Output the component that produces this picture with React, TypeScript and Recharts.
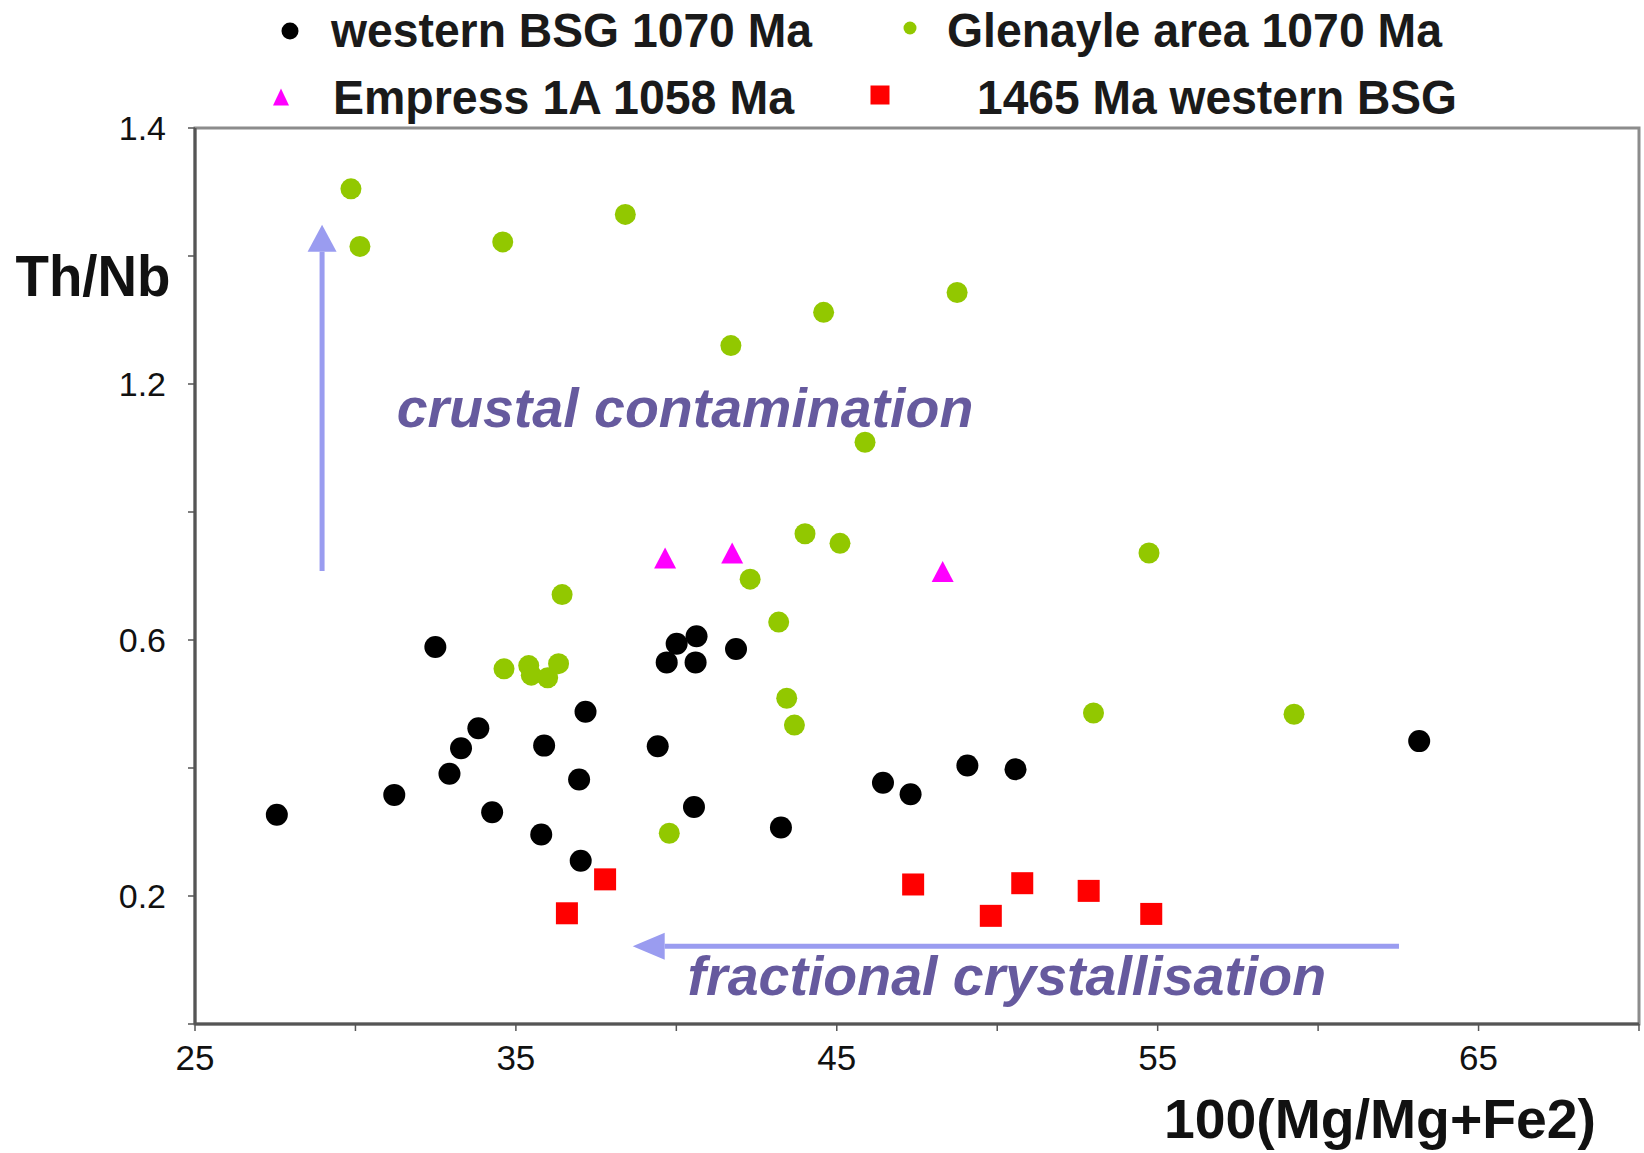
import React from 'react';
import { ScatterChart, Scatter, XAxis, YAxis, Legend, ReferenceArea, ReferenceLine, ReferenceDot } from 'recharts';

const FONT = '"Liberation Sans", Arial, sans-serif';

// series values: 100(Mg/Mg+Fe2) and Th/Nb
const westernBsgX = [27.55, 31.21, 32.49, 32.93, 33.29, 33.83, 34.26, 35.79, 35.88, 36.97, 37.02, 37.17, 39.42, 39.7, 40.01, 40.6, 40.63, 40.55, 41.86, 43.26, 46.44, 47.3, 49.07, 50.57, 63.15];
const westernBsgY = [0.327, 0.358, 0.589, 0.391, 0.431, 0.462, 0.331, 0.296, 0.435, 0.382, 0.255, 0.488, 0.434, 0.565, 0.594, 0.565, 0.606, 0.339, 0.586, 0.307, 0.377, 0.359, 0.404, 0.398, 0.442];

const glenayleX = [29.86, 30.14, 34.59, 38.41, 41.7, 44.59, 48.75, 45.88, 44.01, 45.1, 54.73, 42.3, 36.44, 43.19, 34.63, 35.4, 35.48, 35.99, 36.33, 43.44, 43.68, 53.0, 59.25, 39.78];
const glenayleY = [1.305, 1.215, 1.222, 1.265, 1.06, 1.112, 1.143, 0.909, 0.766, 0.751, 0.736, 0.695, 0.671, 0.628, 0.555, 0.56, 0.545, 0.541, 0.563, 0.509, 0.467, 0.486, 0.484, 0.298];

const empressX = [39.65, 41.74, 48.3];
const empressY = [0.728, 0.736, 0.707];

const bsg1465X = [36.59, 37.78, 47.38, 49.8, 50.78, 52.85, 54.8];
const bsg1465Y = [0.173, 0.226, 0.218, 0.169, 0.22, 0.208, 0.172];

const seriesNames = ['western BSG 1070 Ma', 'Glenayle area 1070 Ma', 'Empress 1A 1058 Ma', '1465 Ma western BSG'];

// axis ticks (the figure labels them irregularly)
const xTicks = [25, 30, 35, 40, 45, 50, 55, 60, 65, 70];
const xTickLabels = ['25', '', '35', '', '45', '', '55', '', '65', ''];
const yTicks = [0, 0.2, 0.4, 0.6, 0.8, 1.0, 1.2, 1.4];
const yTickLabels = ['', '0.2', '', '0.6', '', '1.2', '', '1.4'];

// annotation arrows: [from, tip]
const crustalArrow = [{ x: 28.96, y: 0.708 }, { x: 28.96, y: 1.249 }];
const fractionalArrow = [{ x: 62.52, y: 0.1214 }, { x: 38.64, y: 0.1214 }];
const crustalText = { x: 40.27, y: 0.933, text: 'crustal contamination' };
const fractionalText = { x: 50.3, y: 0.0458, text: 'fractional crystallisation' };

const toPoints = (xs: number[], ys: number[]) => xs.map((x, i) => ({ x, y: ys[i] }));

const westernBsg = toPoints(westernBsgX, westernBsgY);
const glenayle = toPoints(glenayleX, glenayleY);
const empress = toPoints(empressX, empressY);
const bsg1465 = toPoints(bsg1465X, bsg1465Y);

function Marker({ kind, cx, cy, small }: { kind: number; cx: number; cy: number; small?: boolean }) {
  if (kind === 0) return <circle cx={cx} cy={cy} r={small ? 8.5 : 11} fill="#000" />;
  if (kind === 1) return <circle cx={cx} cy={cy} r={small ? 6.5 : 10.5} fill="#92c800" />;
  if (kind === 2) {
    const h = small ? 8.5 : 10.5;
    const w = small ? 8 : 11;
    return <polygon points={`${cx},${cy - h} ${cx - w},${cy + h} ${cx + w},${cy + h}`} fill="#ff00ff" />;
  }
  const s = small ? 9.5 : 11;
  return <rect x={cx - s} y={cy - s} width={s * 2} height={s * 2} fill="#ff0000" />;
}

const shapeFor = (kind: number) => (p: any) => <Marker kind={kind} cx={p.cx} cy={p.cy} />;

const arrowShape = (head: number, half: number) => (p: any) => {
  const { x1, y1, x2, y2 } = p;
  const dx = x2 - x1;
  const dy = y2 - y1;
  const len = Math.sqrt(dx * dx + dy * dy) || 1;
  const ux = dx / len;
  const uy = dy / len;
  const bx = x2 - ux * head;
  const by = y2 - uy * head;
  const color = '#9a9cf0';
  return (
    <g>
      <line x1={x1} y1={y1} x2={bx} y2={by} stroke={color} strokeWidth={5} />
      <polygon
        points={`${x2},${y2} ${bx - uy * half},${by + ux * half} ${bx + uy * half},${by - ux * half}`}
        fill={color}
      />
    </g>
  );
};

const annotationShape = (text: string) => (p: any) => (
  <text
    x={p.cx}
    y={p.cy}
    textAnchor="middle"
    fontFamily={FONT}
    fontSize={55.5}
    fontWeight="bold"
    fontStyle="italic"
    fill="#665a9e"
  >
    {text}
  </text>
);

const legendLayout = [
  { mx: 290, my: 31, tx: 331, ty: 47, tw: 481 },
  { mx: 910, my: 28, tx: 947, ty: 47, tw: 495 },
  { mx: 281, my: 97, tx: 333, ty: 114, tw: 461 },
  { mx: 880, my: 95, tx: 977, ty: 114, tw: 480 },
];

function LegendContent(props: any) {
  const payload: any[] = props.payload ?? [];
  return (
    <svg width={1644} height={125}>
      {payload.map((entry) => {
        const i = seriesNames.indexOf(entry.value);
        if (i < 0) return null;
        const l = legendLayout[i];
        return (
          <g key={entry.value}>
            <Marker kind={i} cx={l.mx} cy={l.my} small />
            <text
              x={l.tx}
              y={l.ty}
              fontFamily={FONT}
              fontSize={48}
              fontWeight="bold"
              fill="#1a1a1a"
              textLength={l.tw}
              lengthAdjust="spacingAndGlyphs"
            >
              {entry.value}
            </text>
          </g>
        );
      })}
    </svg>
  );
}

export default function App() {
  return (
    <div style={{ position: 'absolute', left: 0, top: 0, width: 1644, height: 1153, background: '#fff' }}>
      <ScatterChart width={1644} height={1153} margin={{ top: 128, right: 5, bottom: 0, left: 0 }}>
        <ReferenceArea x1={25} x2={70} y1={0} y2={1.4} fill="none" stroke="#8c8c8c" strokeWidth={3} />
        <XAxis
          type="number"
          dataKey="x"
          domain={[25, 70]}
          ticks={xTicks}
          interval={0}
          allowDataOverflow
          height={129}
          tickSize={7}
          tickMargin={14}
          tickFormatter={(v: number) => xTickLabels[xTicks.indexOf(v)] ?? ''}
          tick={{ fill: '#111', fontSize: 35, fontFamily: FONT }}
          axisLine={{ stroke: '#555', strokeWidth: 3 }}
          tickLine={{ stroke: '#555', strokeWidth: 1.5 }}
          label={{
            content: (p: any) => (
              <text
                x={p.viewBox.x + p.viewBox.width - 43}
                y={p.viewBox.y + 114}
                textAnchor="end"
                fontFamily={FONT}
                fontSize={56}
                fontWeight="bold"
                fill="#111"
                textLength={432}
                lengthAdjust="spacingAndGlyphs"
              >
                100(Mg/Mg+Fe2)
              </text>
            ),
          }}
        />
        <YAxis
          type="number"
          dataKey="y"
          domain={[0, 1.4]}
          ticks={yTicks}
          interval={0}
          allowDataOverflow
          width={195}
          tickSize={7}
          tickMargin={22}
          tickFormatter={(v: number) => yTickLabels[yTicks.findIndex((t) => Math.abs(t - v) < 1e-6)] ?? ''}
          tick={{ fill: '#111', fontSize: 34, fontFamily: FONT }}
          axisLine={{ stroke: '#555', strokeWidth: 3 }}
          tickLine={{ stroke: '#555', strokeWidth: 1.5 }}
          label={{
            content: (p: any) => (
              <text
                x={p.viewBox.x + 93}
                y={p.viewBox.y + 168}
                textAnchor="middle"
                fontFamily={FONT}
                fontSize={57}
                fontWeight="bold"
                fill="#111"
                textLength={155}
                lengthAdjust="spacingAndGlyphs"
              >
                Th/Nb
              </text>
            ),
          }}
        />
        <Legend
          layout="horizontal"
          verticalAlign="middle"
          align="center"
          content={<LegendContent />}
          wrapperStyle={{ top: 0, left: 0, width: 1644, height: 125 }}
        />
        <ReferenceLine segment={crustalArrow} shape={arrowShape(27, 14.5)} />
        <ReferenceLine segment={fractionalArrow} shape={arrowShape(32, 13.5)} />
        <ReferenceDot x={crustalText.x} y={crustalText.y} r={0} shape={annotationShape(crustalText.text)} />
        <ReferenceDot x={fractionalText.x} y={fractionalText.y} r={0} shape={annotationShape(fractionalText.text)} />
        <Scatter name={seriesNames[0]} data={westernBsg} fill="#000" shape={shapeFor(0)} isAnimationActive={false} />
        <Scatter name={seriesNames[1]} data={glenayle} fill="#92c800" shape={shapeFor(1)} isAnimationActive={false} />
        <Scatter name={seriesNames[2]} data={empress} fill="#ff00ff" shape={shapeFor(2)} isAnimationActive={false} />
        <Scatter name={seriesNames[3]} data={bsg1465} fill="#ff0000" shape={shapeFor(3)} isAnimationActive={false} />
      </ScatterChart>
    </div>
  );
}
